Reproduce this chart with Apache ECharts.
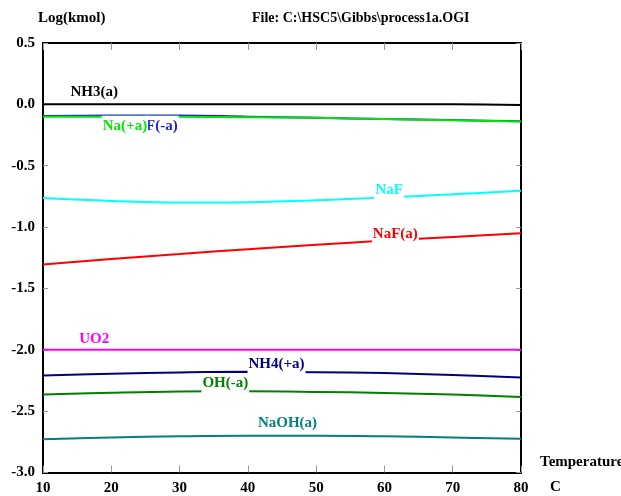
<!DOCTYPE html>
<html>
<head>
<meta charset="utf-8">
<script src="https://cdn.jsdelivr.net/npm/echarts@6/dist/echarts.min.js"></script>
<style>
  html, body { margin: 0; padding: 0; background: #fff; }
  #chart { width: 621px; height: 496px; }
</style>
</head>
<body>
<div id="chart"></div>
<script>
// temperature, C
var temps = [10, 20, 30, 40, 50, 60, 70, 80];

// Log(kmol)
var nh3 = [0.0, 0.0, 0.0, 0.0, 0.0, 0.0, 0.0, -0.005];
var naPlus = [-0.10, -0.10, -0.10, -0.105, -0.11, -0.12, -0.13, -0.14];
var fMinus = [-0.095, -0.09, -0.09, -0.10, -0.11, -0.12, -0.128, -0.138];
var naf = [-0.764, -0.787, -0.80, -0.797, -0.782, -0.758, -0.733, -0.705];
var nafA = [-1.305, -1.26, -1.22, -1.18, -1.145, -1.11, -1.08, -1.05];
var uo2 = [-2.0, -2.0, -2.0, -2.0, -2.0, -2.0, -2.0, -2.0];
var nh4 = [-2.21, -2.195, -2.185, -2.18, -2.183, -2.19, -2.205, -2.225];
var ohMinus = [-2.365, -2.35, -2.34, -2.338, -2.343, -2.352, -2.365, -2.385];
var naoh = [-2.73, -2.715, -2.705, -2.70, -2.70, -2.705, -2.715, -2.725];

// where each species name sits [temp, log value]
var names = ['NH3(a)', 'F(-a)', 'Na(+a)', 'NaF', 'NaF(a)', 'UO2', 'NH4(+a)', 'OH(-a)', 'NaOH(a)'];
var labelAt = [[17.5, 0.10], [27.4, -0.175], [22.0, -0.175], [60.7, -0.70], [61.6, -1.06],
               [17.5, -1.915], [44.2, -2.12], [36.7, -2.275], [45.8, -2.60]];

var font = 'Liberation Serif';
var chart = echarts.init(document.getElementById('chart'));

function pairs(vals) {
  return temps.map(function (t, i) { return [t, vals[i]]; });
}

function makeSeries(idx, vals, color, bg) {
  return {
    name: names[idx],
    type: 'line',
    data: pairs(vals),
    smooth: 0.4,
    symbol: 'none',
    lineStyle: { color: color, width: 2 },
    z: 2,
    markPoint: {
      symbol: 'rect',
      symbolSize: 1,
      itemStyle: { color: 'rgba(0,0,0,0)' },
      z: 5,
      label: {
        show: true,
        position: 'inside',
        formatter: names[idx],
        color: color,
        fontFamily: font,
        fontWeight: 'bold',
        fontSize: 15,
        backgroundColor: bg ? '#fff' : 'transparent',
        padding: bg ? [2, 1, 3, 1] : 0
      },
      data: [{ coord: labelAt[idx] }]
    }
  };
}

var frameLine = { onZero: false, lineStyle: { color: '#000', width: 2 } };

var option = {
  animation: false,
  backgroundColor: '#fff',
  grid: { left: 43, right: 100, top: 43, bottom: 23.5, containLabel: false },
  xAxis: [{
    type: 'value', min: 10, max: 80, interval: 10,
    axisLine: frameLine,
    axisTick: { inside: true, length: 7, lineStyle: { color: '#999' } },
    axisLabel: { color: '#000', fontFamily: font, fontWeight: 'bold', fontSize: 15, margin: 8 },
    splitLine: { show: false }
  }, {
    type: 'value', min: 10, max: 80, interval: 10, position: 'top',
    axisLine: frameLine,
    axisTick: { inside: true, length: 7, lineStyle: { color: '#999' } },
    axisLabel: { show: false },
    splitLine: { show: false }
  }],
  yAxis: [{
    type: 'value', min: -3, max: 0.5, interval: 0.5,
    axisLine: { show: true, onZero: false, lineStyle: { color: '#000', width: 2 } },
    axisTick: { show: true, inside: true, length: 5, lineStyle: { color: '#999' } },
    axisLabel: {
      color: '#000', fontFamily: font, fontWeight: 'bold', fontSize: 15, margin: 8,
      formatter: function (v) { return v.toFixed(1); }
    },
    splitLine: { show: false }
  }, {
    type: 'value', min: -3, max: 0.5, interval: 0.5, position: 'right',
    axisLine: { show: true, onZero: false, lineStyle: { color: '#000', width: 2 } },
    axisTick: { show: true, inside: true, length: 5, lineStyle: { color: '#999' } },
    axisLabel: { show: false },
    splitLine: { show: false }
  }],
  graphic: [
    { type: 'text', left: 38, top: 11, style: { text: 'Log(kmol)', font: 'bold 15px ' + font, fill: '#000' } },
    { type: 'text', left: 252, top: 11, style: { text: 'File: C:\\HSC5\\Gibbs\\process1a.OGI', font: 'bold 14px ' + font, fill: '#000' } },
    { type: 'text', left: 540, top: 455, style: { text: 'Temperature', font: 'bold 15px ' + font, fill: '#000' } },
    { type: 'text', left: 550, top: 480, style: { text: 'C', font: 'bold 15px ' + font, fill: '#000' } }
  ],
  series: [
    makeSeries(0, nh3, '#000000', false),
    makeSeries(1, fMinus, '#2020e0', true),
    makeSeries(2, naPlus, '#00e600', true),
    makeSeries(3, naf, '#00ffff', true),
    makeSeries(4, nafA, '#ff0000', true),
    makeSeries(5, uo2, '#ff00ff', false),
    makeSeries(6, nh4, '#000080', true),
    makeSeries(7, ohMinus, '#008000', true),
    makeSeries(8, naoh, '#008080', false)
  ]
};

chart.setOption(option);
</script>
</body>
</html>
